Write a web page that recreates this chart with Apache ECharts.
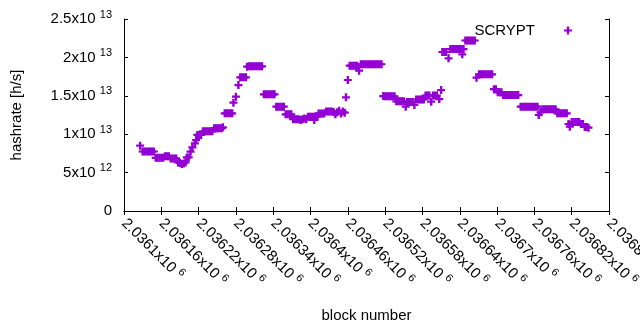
<!DOCTYPE html>
<html>
<head>
<meta charset="utf-8">
<script src="https://cdn.jsdelivr.net/npm/echarts@6/dist/echarts.min.js"></script>
<style>
  html, body { margin: 0; padding: 0; background: #fff; }
  #chart { width: 640px; height: 330px; }
</style>
</head>
<body>
<div id="chart"></div>
<script>
// block numbers and hashrate (units of 10^12 h/s)
var blocks = [
  2036126, 2036130, 2036133, 2036136, 2036139, 2036142, 2036145, 2036148,
  2036151, 2036154, 2036157, 2036160, 2036163, 2036166, 2036169, 2036172,
  2036175, 2036178, 2036181, 2036184, 2036187, 2036190, 2036193, 2036196, 2036199,
  2036201, 2036204, 2036207, 2036210, 2036214, 2036216, 2036218, 2036221, 2036224,
  2036227, 2036230, 2036233, 2036236, 2036239, 2036242, 2036245, 2036248, 2036251, 2036254, 2036257, 2036259,
  2036262, 2036265, 2036268, 2036271, 2036274, 2036276, 2036280, 2036284,
  2036287, 2036290, 2036293, 2036296, 2036298, 2036301, 2036304, 2036307, 2036310, 2036313, 2036316, 2036319, 2036322,
  2036325, 2036328, 2036331, 2036334, 2036337, 2036340, 2036342, 2036345, 2036348, 2036351, 2036354, 2036357,
  2036360, 2036363, 2036366, 2036369, 2036372, 2036375, 2036378, 2036381, 2036384, 2036387, 2036390, 2036393,
  2036396, 2036399, 2036402, 2036405, 2036406, 2036408, 2036411,
  2036413, 2036416, 2036419, 2036422, 2036425, 2036428, 2036431, 2036434,
  2036437, 2036440, 2036443, 2036446, 2036449, 2036452, 2036455, 2036457, 2036460,
  2036463, 2036466, 2036469, 2036472, 2036475, 2036478,
  2036481, 2036484, 2036487, 2036490, 2036493, 2036496, 2036499, 2036502, 2036505, 2036508, 2036511, 2036514,
  2036517, 2036520, 2036523, 2036526, 2036529, 2036532, 2036535,
  2036538, 2036541, 2036544, 2036547, 2036550, 2036553, 2036555, 2036558, 2036561, 2036564, 2036567,
  2036570, 2036573, 2036576, 2036579, 2036582, 2036585, 2036588, 2036591, 2036594, 2036597, 2036600, 2036603,
  2036607, 2036610, 2036612, 2036615, 2036618, 2036622,
  2036625, 2036628, 2036631, 2036634, 2036637, 2036640, 2036643, 2036644, 2036646,
  2036649, 2036652, 2036655, 2036658, 2036661, 2036664, 2036667,
  2036671, 2036674, 2036677, 2036680, 2036683, 2036686, 2036689, 2036692,
  2036695, 2036698, 2036701, 2036704, 2036707,
  2036710, 2036713, 2036716, 2036719, 2036722, 2036725, 2036728, 2036731, 2036734,
  2036738, 2036741, 2036744, 2036747, 2036750, 2036753, 2036756, 2036759, 2036762, 2036765,
  2036767, 2036770, 2036773, 2036776, 2036779, 2036782, 2036785, 2036788, 2036791, 2036794,
  2036797, 2036800, 2036803, 2036806, 2036809, 2036812, 2036815, 2036817,
  2036820, 2036823, 2036826, 2036829, 2036832, 2036835, 2036838, 2036841, 2036844, 2036847
]
var hashrate = [
  8.50, 7.75, 7.75, 7.75, 7.75, 7.75, 7.75, 7.75,
  6.93, 6.93, 6.93, 6.93, 6.93, 7.12, 7.12, 7.12,
  6.84, 6.84, 6.84, 6.84, 6.33, 6.25, 6.12, 6.20, 6.33,
  6.97, 6.97, 7.72, 8.29, 8.81, 9.24, 9.90, 9.90, 9.90,
  10.38, 10.38, 10.38, 10.38, 10.38, 10.38, 10.77, 10.77, 10.77, 10.77, 10.77, 10.90,
  12.72, 12.72, 12.72, 12.72, 12.72, 14.10, 14.88, 16.40,
  17.41, 17.41, 17.41, 17.41, 18.79, 18.84, 18.84, 18.84, 18.84, 18.84, 18.84, 18.84, 18.84,
  15.19, 15.19, 15.19, 15.19, 15.19, 15.19, 15.19, 13.58, 13.58, 13.58, 13.58, 13.58,
  12.59, 12.59, 12.59, 12.59, 11.96, 11.96, 11.96, 11.96, 11.85, 11.96, 12.05, 11.96,
  12.28, 12.28, 12.28, 12.28, 11.85, 12.28, 12.28,
  12.70, 12.70, 12.70, 12.70, 12.95, 12.95, 12.95, 12.95,
  12.90, 12.60, 12.85, 13.05, 12.70, 12.95, 12.80, 14.80, 17.06,
  18.92, 18.92, 18.92, 18.92, 18.92, 18.27,
  19.11, 19.11, 19.11, 19.11, 19.11, 19.11, 19.11, 19.11, 19.11, 19.11, 19.11, 19.11,
  14.97, 14.93, 14.93, 14.93, 14.93, 14.93, 14.93,
  14.28, 14.28, 14.28, 14.28, 14.28, 13.58, 14.19, 14.19, 14.19, 14.19, 13.80,
  14.52, 14.52, 14.52, 14.52, 14.52, 15.04, 15.04, 15.04, 14.23, 15.04, 15.04, 15.04,
  14.58, 15.75, 20.70, 20.70, 20.70, 19.88,
  21.09, 21.09, 21.09, 21.09, 21.09, 21.09, 21.09, 20.40, 21.09,
  22.20, 22.20, 22.20, 22.20, 22.20, 22.20, 17.36,
  17.80, 17.80, 17.80, 17.80, 17.80, 17.80, 17.80, 17.80,
  15.86, 15.86, 15.47, 15.47, 15.47,
  15.10, 15.10, 15.10, 15.10, 15.10, 15.10, 15.10, 15.10, 15.10,
  13.58, 13.58, 13.58, 13.58, 13.58, 13.58, 13.58, 13.58, 13.58, 13.58,
  12.50, 12.85, 13.25, 13.25, 13.25, 13.25, 13.25, 13.25, 13.25, 13.25,
  12.72, 12.72, 12.72, 12.72, 12.72, 12.72, 11.33, 10.98,
  11.59, 11.59, 11.59, 11.59, 11.59, 11.33, 11.33, 10.94, 10.94, 10.85
]

// tick labels (mantissa, exponent)
var xTickLabels = ['2.0361', '2.03616', '2.03622', '2.03628', '2.03634', '2.0364', '2.03646',
  '2.03652', '2.03658', '2.03664', '2.0367', '2.03676', '2.03682', '2.03688']
var xTickExp = '6'
var yTickLabels = [['0', ''], ['5x10', '12'], ['1x10', '13'], ['1.5x10', '13'], ['2x10', '13'], ['2.5x10', '13']]

var xMin = 2036100
var xStep = 60

var chart = echarts.init(document.getElementById('chart'))

// gnuplot style "+" point
var plus = 'path://M2.8,0H5.2V2.9H8V5.1H5.2V8H2.8V5.1H0V2.9H2.8Z'
var font = 'Liberation Sans'

var richText = {
  m: { fontSize: 15, fontFamily: font, color: '#000', lineHeight: 20 },
  e: { fontSize: 11, fontFamily: font, color: '#000', lineHeight: 11, verticalAlign: 'top' }
}

var pts = blocks.map(function(b, i) { return [b, hashrate[i]] })

chart.setOption({
  animation: false,
  backgroundColor: '#fff',
  grid: { left: 124, right: 31, top: 19, bottom: 119, containLabel: false, outerBoundsMode: 'none' },
  legend: {
    right: 68,
    top: 23,
    padding: 0,
    align: 'right',
    itemWidth: 56,
    itemHeight: 8,
    itemGap: 5,
    data: [{ name: 'SCRYPT', icon: plus }],
    textStyle: { fontSize: 15, fontFamily: font, color: '#000' }
  },
  xAxis: [{
    type: 'value',
    min: xMin,
    max: 2036880,
    interval: xStep,
    name: 'block number',
    nameLocation: 'middle',
    nameGap: 97,
    nameTextStyle: { fontSize: 15, fontFamily: font, color: '#000' },
    axisLine: { lineStyle: { color: '#000', width: 1 } },
    axisTick: { inside: true, length: 4, lineStyle: { color: '#000' } },
    splitLine: { show: false },
    axisLabel: {
      rotate: -45,
      margin: 10,
      hideOverlap: false,
      formatter: function(v) {
        var i = Math.round((v - xMin) / xStep)
        return '{m|' + xTickLabels[i] + 'x10 }{e|' + xTickExp + '}'
      },
      rich: richText
    }
  }, {
    type: 'value',
    position: 'top',
    min: xMin,
    max: 2036880,
    interval: xStep,
    axisLine: { lineStyle: { color: '#000', width: 1 } },
    axisTick: { inside: true, length: 4, lineStyle: { color: '#000' } },
    axisLabel: { show: false },
    splitLine: { show: false }
  }],
  yAxis: [{
    type: 'value',
    min: 0,
    max: 25,
    interval: 5,
    name: 'hashrate [h/s]',
    nameLocation: 'middle',
    nameGap: 100,
    nameTextStyle: { fontSize: 15, fontFamily: font, color: '#000' },
    axisLine: { show: true, lineStyle: { color: '#000', width: 1 } },
    axisTick: { show: true, inside: true, length: 4, lineStyle: { color: '#000' } },
    splitLine: { show: false },
    axisLabel: {
      margin: 12,
      formatter: function(v) {
        var t = yTickLabels[Math.round(v / 5)]
        return t[1] ? '{m|' + t[0] + ' }{e|' + t[1] + '}' : '{m|' + t[0] + '}'
      },
      rich: richText
    }
  }, {
    type: 'value',
    position: 'right',
    min: 0,
    max: 25,
    interval: 5,
    axisLine: { show: true, lineStyle: { color: '#000', width: 1 } },
    axisTick: { show: true, inside: true, length: 4, lineStyle: { color: '#000' } },
    axisLabel: { show: false },
    splitLine: { show: false }
  }],
  series: [{
    name: 'SCRYPT',
    type: 'scatter',
    symbol: plus,
    symbolSize: 8,
    itemStyle: { color: '#9400d3', opacity: 1 },
    data: pts
  }]
})
</script>
</body>
</html>
